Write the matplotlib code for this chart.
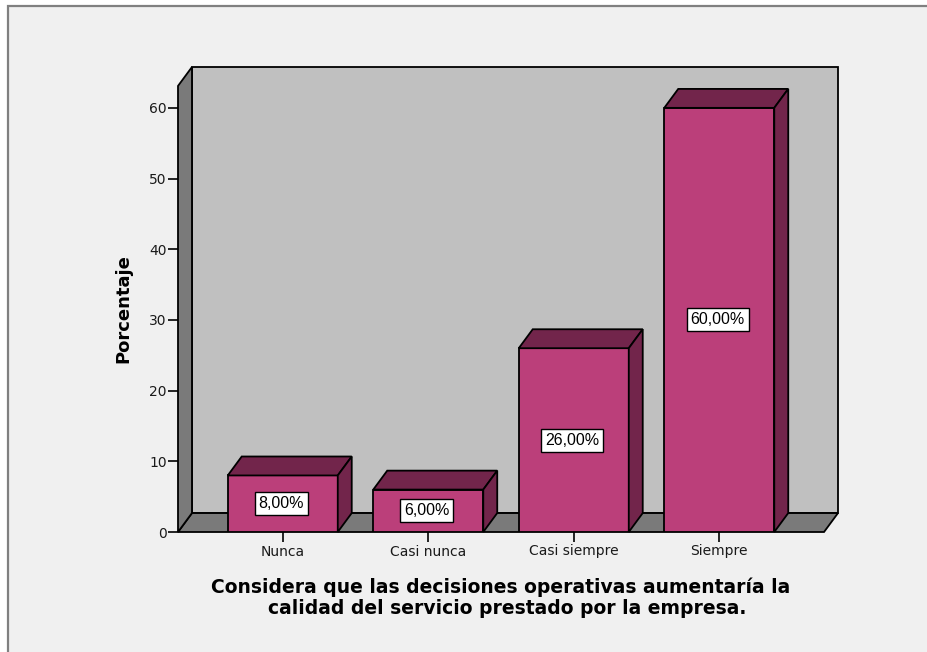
import matplotlib.pyplot as plt
from matplotlib.patches import Polygon, Rectangle
import numpy as np

categories = ['Nunca', 'Casi nunca', 'Casi siempre', 'Siempre']
percentages = [8.0, 6.0, 26.0, 60.0]
bar_labels = ['8,00%', '6,00%', '26,00%', '60,00%']
yticks = [0, 10, 20, 30, 40, 50, 60]

front_col = '#BB3F7A'
dark_col = '#72254B'
wall_col = '#C0C0C0'
side_col = '#7A7A7A'

fig = plt.figure(figsize=(9.27, 6.52), dpi=100, facecolor='white')

# outer frame (cut off at right and bottom like the screenshot)
W, H = 927, 652
fig.add_artist(Rectangle((8 / W, 0 - 20 / H), 1.2, (H - 6 + 20) / H,
                         transform=fig.transFigure, facecolor='#F0F0F0',
                         edgecolor='#808080', linewidth=1.6, zorder=0))

# axes box: front left x=178, back right x=838, floor y=532, back top y=67
ax = fig.add_axes([178 / W, (H - 532) / H, (838 - 178) / W, (532 - 67) / H])
ax.set_facecolor('none')
for s in ax.spines.values():
    s.set_visible(False)

xa, xb = -0.72, 3.72      # front edge of the floor
DX, DY = 0.096, 2.68      # 3D depth offset
ytop = 63.1               # front top of left wall
ax.set_xlim(xa, xb + DX)
ax.set_ylim(0, ytop + DY)

lw = 1.3
# back wall
ax.add_patch(Polygon([(xa + DX, DY), (xb + DX, DY), (xb + DX, ytop + DY), (xa + DX, ytop + DY)],
                     closed=True, facecolor=wall_col, edgecolor='black', lw=lw, clip_on=False, zorder=1))
# floor
ax.add_patch(Polygon([(xa, 0), (xb, 0), (xb + DX, DY), (xa + DX, DY)],
                     closed=True, facecolor=side_col, edgecolor='black', lw=lw, clip_on=False, zorder=1))
# left wall
ax.add_patch(Polygon([(xa, 0), (xa, ytop), (xa + DX, ytop + DY), (xa + DX, DY)],
                     closed=True, facecolor=side_col, edgecolor='black', lw=lw, clip_on=False, zorder=1))

x = np.arange(len(categories))
w = 0.756
ax.bar(x, percentages, width=w, color=front_col, edgecolor='black', linewidth=lw, zorder=3)
for xi, v, lab in zip(x, percentages, bar_labels):
    l, r = xi - w / 2, xi + w / 2
    ax.add_patch(Polygon([(l, v), (r, v), (r + DX, v + DY), (l + DX, v + DY)], closed=True,
                         facecolor=dark_col, edgecolor='black', lw=lw, zorder=3, clip_on=False))
    ax.add_patch(Polygon([(r, 0), (r, v), (r + DX, v + DY), (r + DX, DY)], closed=True,
                         facecolor=dark_col, edgecolor='black', lw=lw, zorder=3, clip_on=False))
    ax.text(xi - 0.01, v / 2, lab, ha='center', va='center', fontsize=11.5,
            family='Liberation Sans', zorder=5,
            bbox=dict(boxstyle='square,pad=0.25', facecolor='white', edgecolor='black', lw=1))

ax.set_xticks(x, categories)
ax.set_yticks(yticks)
ax.tick_params(axis='both', direction='out', length=7, width=1.2, color='black',
               labelsize=10, labelcolor='#1a1a1a')
ax.tick_params(axis='y', pad=1)
ax.tick_params(axis='x', pad=2)

fig.text(123 / W, 1 - 309 / H, 'Porcentaje', rotation=90, ha='center', va='center',
         fontsize=13, fontweight='bold')
fig.text(501 / W, 1 - 587 / H, 'Considera que las decisiones operativas aumentaría la',
         ha='center', va='center', fontsize=13.5, fontweight='bold')
fig.text(507 / W, 1 - 609 / H, 'calidad del servicio prestado por la empresa.',
         ha='center', va='center', fontsize=13.5, fontweight='bold')

fig.savefig('out.png', dpi=100, facecolor='white')
plt.close(fig)
